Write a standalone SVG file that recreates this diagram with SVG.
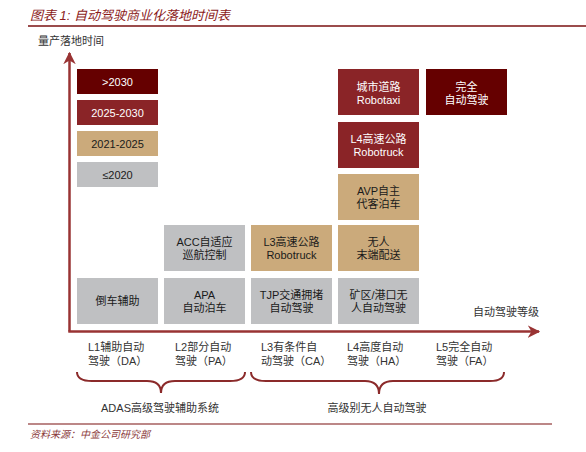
<svg xmlns="http://www.w3.org/2000/svg" width="586" height="452" viewBox="0 0 586 452">
<defs>
<style>
text{font-family:"Liberation Sans","Noto Sans CJK SC",sans-serif;font-size:11px;}
.c{text-anchor:middle;}
.w{fill:#ffffff;}
.k{fill:#1a1a1a;}
.dark{fill:#650000;}
.red{fill:#8A2427;}
.tan{fill:#CBAA7B;}
.gray{fill:#BFC0C2;}
.ax{stroke:#993333;stroke-width:2.5;fill:none;}
.br{stroke:#8B2A2A;stroke-width:2;fill:none;}
.lbl{fill:#333333;font-size:11px;}
</style>
<marker id="ah" viewBox="0 0 10 10" refX="9" refY="5" markerWidth="5" markerHeight="5" orient="auto" markerUnits="strokeWidth">
<path d="M0,0 L10,5 L0,10 L3,5 Z" fill="#993333"/>
</marker>
</defs>
<rect width="586" height="452" fill="#ffffff"/>
<g id="title">
<text x="30" y="20" style="font-size:13px;font-style:italic;fill:#8B1A1A;">图表 1:  自动驾驶商业化落地时间表</text>
<line x1="28" y1="26" x2="586" y2="26" stroke="#7A1010" stroke-width="1.5"/>
</g>
<g id="axis-labels">
<text x="38" y="45" class="lbl">量产落地时间</text>
<text x="473" y="316" class="lbl">自动驾驶等级</text>
</g>
<g id="connectors">
<path class="ax" d="M69.5,331.5 L69.5,53" marker-end="url(#ah)"/>
<path class="ax" d="M68.3,331.5 L539,331.5" marker-end="url(#ah)"/>
<path class="br" d="M77,372 Q77,381 92,381 L147,381 Q161,381 161,393 Q161,381 175,381 L230,381 Q245,381 245,372"/>
<path class="br" d="M251,372 Q251,381 266,381 L365,381 Q379,381 379,394 Q379,381 393,381 L490,381 Q504,381 504,372"/>
</g>
<g id="legend-2030">
<rect class="dark" x="77" y="69" width="81" height="25"/>
<text class="c w" x="117.5" y="85.5">&gt;2030</text>
</g>
<g id="legend-2025-2030">
<rect class="red" x="77" y="100" width="81" height="25"/>
<text class="c w" x="117.5" y="116.5">2025-2030</text>
</g>
<g id="legend-2021-2025">
<rect class="tan" x="77" y="131" width="81" height="25"/>
<text class="c k" x="117.5" y="147.5">2021-2025</text>
</g>
<g id="legend-2020">
<rect class="gray" x="77" y="162" width="81" height="25"/>
<text class="c k" x="117.5" y="178.5">≤2020</text>
</g>
<g id="n-daoche">
<rect class="gray" x="77" y="278" width="81" height="46"/>
<text class="c k" x="117.5" y="305">倒车辅助</text>
</g>
<g id="n-acc">
<rect class="gray" x="164" y="225" width="81" height="46"/>
<text class="c k" x="204.5" y="246">ACC自适应</text>
<text class="c k" x="204.5" y="259">巡航控制</text>
</g>
<g id="n-apa">
<rect class="gray" x="164" y="278" width="81" height="46"/>
<text class="c k" x="204.5" y="299">APA</text>
<text class="c k" x="204.5" y="312">自动泊车</text>
</g>
<g id="n-l3truck">
<rect class="tan" x="251" y="225" width="81" height="46"/>
<text class="c k" x="291.5" y="246">L3高速公路</text>
<text class="c k" x="291.5" y="259">Robotruck</text>
</g>
<g id="n-tjp">
<rect class="gray" x="251" y="278" width="81" height="46"/>
<text class="c k" x="291.5" y="299">TJP交通拥堵</text>
<text class="c k" x="291.5" y="312">自动驾驶</text>
</g>
<g id="n-robotaxi">
<rect class="red" x="338" y="69" width="81" height="46"/>
<text class="c w" x="378.5" y="90.5">城市道路</text>
<text class="c w" x="378.5" y="103.5">Robotaxi</text>
</g>
<g id="n-l4truck">
<rect class="red" x="338" y="122" width="81" height="46"/>
<text class="c w" x="378.5" y="143">L4高速公路</text>
<text class="c w" x="378.5" y="156">Robotruck</text>
</g>
<g id="n-avp">
<rect class="tan" x="338" y="174" width="81" height="46"/>
<text class="c k" x="378.5" y="195">AVP自主</text>
<text class="c k" x="378.5" y="208">代客泊车</text>
</g>
<g id="n-delivery">
<rect class="tan" x="338" y="225" width="81" height="46"/>
<text class="c k" x="378.5" y="246">无人</text>
<text class="c k" x="378.5" y="259">末端配送</text>
</g>
<g id="n-mine">
<rect class="gray" x="338" y="278" width="81" height="46"/>
<text class="c k" x="378.5" y="299">矿区/港口无</text>
<text class="c k" x="378.5" y="312">人自动驾驶</text>
</g>
<g id="n-full">
<rect class="dark" x="426" y="69" width="81" height="46"/>
<text class="c w" x="466.5" y="90.5">完全</text>
<text class="c w" x="466.5" y="103.5">自动驾驶</text>
</g>
<g id="levels">
<text class="lbl" x="88" y="351">L1辅助自动</text>
<text class="lbl" x="88" y="365">驾驶（DA）</text>
<text class="lbl" x="175" y="351">L2部分自动</text>
<text class="lbl" x="175" y="365">驾驶（PA）</text>
<text class="lbl" x="261" y="351">L3有条件自</text>
<text class="lbl" x="261" y="365">动驾驶（CA）</text>
<text class="lbl" x="347" y="351">L4高度自动</text>
<text class="lbl" x="347" y="365">驾驶（HA）</text>
<text class="lbl" x="436" y="351">L5完全自动</text>
<text class="lbl" x="436" y="365">驾驶（FA）</text>
</g>
<g id="groups">
<text class="c lbl" x="160" y="412">ADAS高级驾驶辅助系统</text>
<text class="c lbl" x="377" y="412">高级别无人自动驾驶</text>
</g>
<g id="footer">
<line x1="28" y1="424" x2="552" y2="424" stroke="#7A1010" stroke-width="1.2"/>
<text x="30" y="438" style="font-size:10px;font-style:italic;fill:#8B3A3A;">资料来源：中金公司研究部</text>
</g>
</svg>
